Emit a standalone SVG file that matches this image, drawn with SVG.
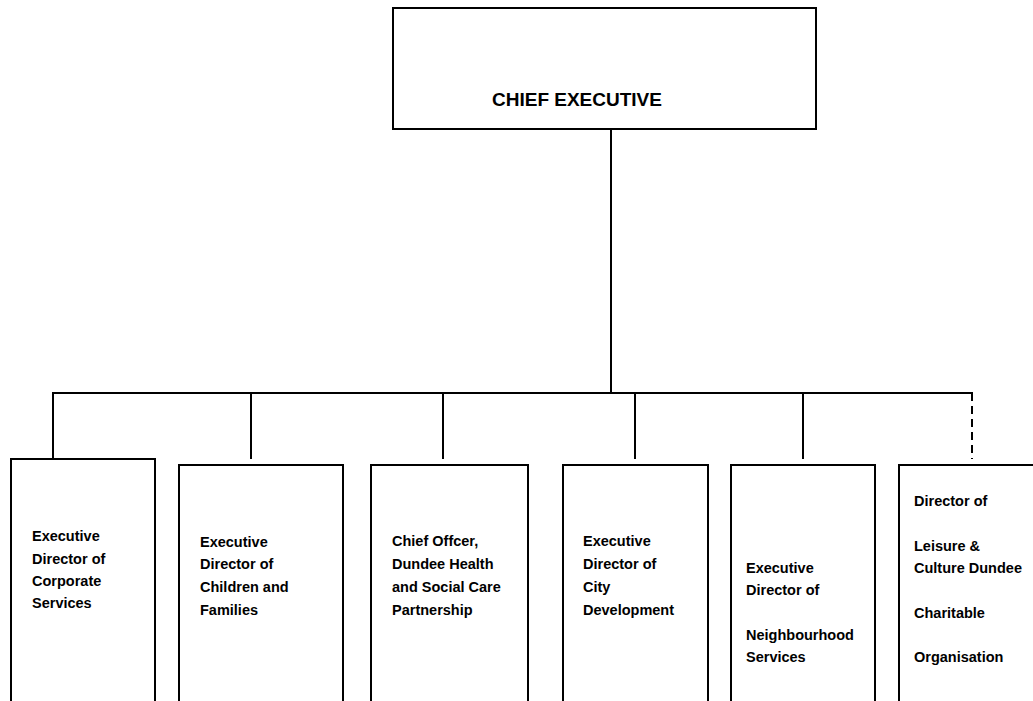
<svg xmlns="http://www.w3.org/2000/svg" width="1033" height="701" viewBox="0 0 1033 701">
<style>
.box{fill:#fff;stroke:#000;stroke-width:2}
.ln{stroke:#000;stroke-width:2;fill:none}
.dash{stroke-dasharray:8 5}
.t{font-family:"Liberation Sans",Arial,sans-serif;font-weight:bold;font-size:14.5px;fill:#000}
.big{font-size:19px}
</style>
<rect width="1033" height="701" fill="#fff"/>
<g id="connectors">
<line class="ln" x1="611" y1="129" x2="611" y2="393"/>
<line class="ln" x1="52" y1="393" x2="973" y2="393"/>
<line class="ln" x1="53" y1="393" x2="53" y2="459"/>
<line class="ln" x1="251" y1="393" x2="251" y2="459"/>
<line class="ln" x1="443" y1="393" x2="443" y2="459"/>
<line class="ln" x1="635" y1="393" x2="635" y2="459"/>
<line class="ln" x1="803" y1="393" x2="803" y2="459"/>
<line class="ln dash" x1="972" y1="393" x2="972" y2="459"/>
</g>
<g id="chief">
<rect class="box" x="393" y="8" width="423" height="121"/>
<text class="t big" x="492" y="106">CHIEF EXECUTIVE</text>
</g>
<g id="corporate">
<rect class="box" x="11" y="459" width="144" height="260"/>
<text class="t" x="32" y="541">Executive</text>
<text class="t" x="32" y="564">Director of</text>
<text class="t" x="32" y="586">Corporate</text>
<text class="t" x="32" y="608">Services</text>
</g>
<g id="children">
<rect class="box" x="179" y="465" width="164" height="260"/>
<text class="t" x="200" y="547">Executive</text>
<text class="t" x="200" y="569">Director of</text>
<text class="t" x="200" y="592">Children and</text>
<text class="t" x="200" y="615">Families</text>
</g>
<g id="health">
<rect class="box" x="371" y="465" width="157" height="260"/>
<text class="t" x="392" y="546">Chief Offcer,</text>
<text class="t" x="392" y="569">Dundee Health</text>
<text class="t" x="392" y="592">and Social Care</text>
<text class="t" x="392" y="615">Partnership</text>
</g>
<g id="city">
<rect class="box" x="563" y="465" width="145" height="260"/>
<text class="t" x="583" y="546">Executive</text>
<text class="t" x="583" y="569">Director of</text>
<text class="t" x="583" y="592">City</text>
<text class="t" x="583" y="615">Development</text>
</g>
<g id="neighbourhood">
<rect class="box" x="731" y="465" width="144" height="260"/>
<text class="t" x="746" y="573">Executive</text>
<text class="t" x="746" y="595">Director of</text>
<text class="t" x="746" y="640">Neighbourhood</text>
<text class="t" x="746" y="662">Services</text>
</g>
<g id="leisure">
<rect class="box" x="899" y="465" width="160" height="260"/>
<text class="t" x="914" y="506">Director of</text>
<text class="t" x="914" y="551">Leisure &amp;</text>
<text class="t" x="914" y="573">Culture Dundee</text>
<text class="t" x="914" y="618">Charitable</text>
<text class="t" x="914" y="662">Organisation</text>
</g>
</svg>
